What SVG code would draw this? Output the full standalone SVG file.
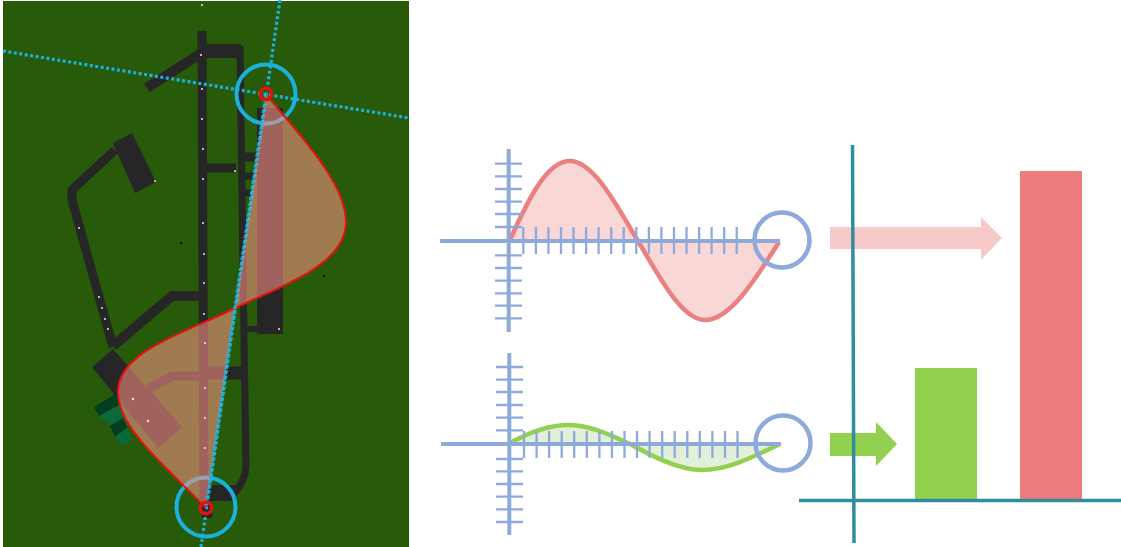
<svg xmlns="http://www.w3.org/2000/svg" width="1121" height="547" viewBox="0 0 1121 547">
<defs><style>
.road{fill:none;stroke:#262626;stroke-linejoin:round}
.bld{fill:#262626}
.dot{fill:#e8e8e0}
.cy{fill:none;stroke:#1cb0de;stroke-width:4}
.cyd{fill:none;stroke:#1cb0de;stroke-width:3.2;stroke-dasharray:3 2.500}
.rd{fill:none;stroke:#e8120c;stroke-width:3.500}
.ax{stroke:#8eaadb;stroke-width:4;fill:none}
.tk{stroke:#8eaadb;stroke-width:2.300;fill:none}
.ring{stroke:#8eaadb;stroke-width:4.500;fill:none}
.teal{stroke:#318c9c;stroke-width:3.500;fill:none}
</style></defs>
<rect width="1121" height="547" fill="#ffffff"/>
<g id="map">
<rect x="3" y="1" width="406" height="546" fill="#275b0a"/>
<g id="taxiways">
<path class="road" stroke-width="9" d="M202,31 L204,506"/>
<path class="road" stroke-width="14" d="M203,51 L241,51"/>
<path class="road" stroke-width="7" d="M240,46 L243,272 L246,465 Q246,480 234,494"/>
<path class="road" stroke-width="10" d="M147,88 L200,54"/>
<path class="road" stroke-width="9" d="M115,150 L72,190 L72,200 L113,347"/>
<path class="road" stroke-width="9" d="M205,168 L236,168"/>
<path class="road" stroke-width="9" d="M240,157 L258,157"/>
<path class="road" stroke-width="7" d="M240,176 L255,176"/>
<path class="road" stroke-width="7" d="M240,193 L252,193"/>
<path class="road" stroke-width="6" d="M243,329 L260,329"/>
<path class="road" stroke-width="10" d="M204,296 L172,296 L113,346"/>
<path class="road" stroke-width="13" d="M205,373 L243,373"/>
<path class="road" stroke-width="9" d="M205,376 L172,376 L148,389"/>
<polygon class="bld" points="113,143 132,133 156,182 135,193"/>
<rect class="bld" x="257" y="108" width="26" height="226"/>
<polygon class="bld" points="113,349 182,427 158,448 92,367"/>
<rect class="bld" x="208" y="485" width="28" height="16"/>
<rect class="bld" x="202" y="502" width="10" height="16"/>
<polygon fill="#013d1e" points="94,407 117,393 121,404 99,416"/>
<polygon fill="#0c6a3a" points="99,416 121,404 129,420 110,425"/>
<polygon fill="#013d1e" points="110,426 123,418 127,428 115,437"/>
<polygon fill="#0c6a3a" points="115,437 127,428 132,440 122,445"/>
<circle class="dot" cx="202" cy="5" r="1"/><circle class="dot" cx="201" cy="55" r="1"/>
<circle class="dot" cx="202" cy="89" r="1"/><circle class="dot" cx="202" cy="119" r="1"/>
<circle class="dot" cx="203" cy="149" r="1"/><circle class="dot" cx="203" cy="179" r="1"/>
<circle class="dot" cx="235" cy="171" r="1"/><circle class="dot" cx="155" cy="181" r="1"/>
<circle class="dot" cx="79" cy="228" r="1"/><circle class="dot" cx="203" cy="223" r="1"/>
<circle class="dot" cx="204" cy="254" r="1"/><circle class="dot" cx="99" cy="297" r="1"/>
<circle class="dot" cx="102" cy="308" r="1"/><circle class="dot" cx="105" cy="319" r="1"/>
<circle class="dot" cx="108" cy="329" r="1"/><circle class="dot" cx="204" cy="283" r="1"/>
<circle class="dot" cx="204" cy="314" r="1"/><circle class="dot" cx="279" cy="329" r="1"/>
<circle fill="#000" cx="181" cy="243" r="1"/><circle fill="#000" cx="324" cy="276" r="1"/>
</g>
<g id="guides">
<path class="cyd" d="M3,51 L409,118"/>
<path class="cyd" d="M280,0 L201,547"/>
<circle class="cy" cx="266" cy="94" r="29.500"/>
<circle class="cy" cx="206" cy="507" r="29.500"/>
</g>
<g id="lobe">
<path d="M266,94 C290,125 346,180 346,222 C346,268 270,290 233,309 C190,331 118,350 118,392 C118,430 170,470 206,508 Z" fill="#ff9289" fill-opacity=".56" stroke="none"/>
<path d="M266,94 C290,125 346,180 346,222 C346,268 270,290 233,309 C190,331 118,350 118,392 C118,430 170,470 206,508" fill="none" stroke="#e8120c" stroke-width="2"/>
<path d="M266,94 L206,508" class="cyd"/>
<circle class="dot" cx="133" cy="399" r="1.200"/><circle class="dot" cx="148" cy="421" r="1.200"/>
<circle class="dot" cx="205" cy="343" r="1"/><circle class="dot" cx="205" cy="388" r="1"/>
<circle class="dot" cx="205" cy="418" r="1"/><circle class="dot" cx="205" cy="448" r="1"/>
<circle class="rd" cx="266" cy="94" r="5.700"/>
<circle class="rd" cx="206" cy="508" r="5.700"/>
</g>
</g>
<g id="wave-large">
<path d="M510,240 C530,195 548,161 570,161 C595,161 620,212 638,241 C660,278 682,320 705,320 C730,320 755,280 779,242 Z" fill="#f8d7d6"/>
<path d="M510,240 C530,195 548,161 570,161 C595,161 620,212 638,241 C660,278 682,320 705,320 C730,320 755,280 779,242" fill="none" stroke="#ea8080" stroke-width="4.500"/>
<path class="tk" d="M495,163.700H522M495,176.300H522M495,189H522M495,201.700H522M495,214H522M495,227H522M495,255.300H522M495,268H522M495,280.700H522M495,293.300H522M495,305.700H522M495,318.300H522"/>
<path class="tk" d="M523.300,227V254M535.900,227V254M548.400,227V254M561,227V254M573.500,227V254M586.100,227V254M598.600,227V254M611.200,227V254M623.700,227V254M636.300,227V254M648.900,227V254M661.400,227V254M674,227V254M686.500,227V254M699.100,227V254M711.600,227V254M724.200,227V254M736.700,227V254"/>
<path class="ax" d="M440,241H780M508.700,149V332"/>
<circle class="ring" cx="782" cy="240" r="27.500"/>
</g>
<g id="wave-small">
<path d="M510,443 C530,432 548,425 568,425 C590,425 610,435 630,444 C650,455 678,470 702,470 C728,470 755,456 780,444 Z" fill="#e2efd9"/>
<path d="M510,443 C530,432 548,425 568,425 C590,425 610,435 630,444 C650,455 678,470 702,470 C728,470 755,456 780,444" fill="none" stroke="#92d050" stroke-width="4.500"/>
<path class="tk" d="M496,367H523M496,379.700H523M496,392H523M496,405H523M496,417.700H523M496,430.300H523M496,459H523M496,471.300H523M496,484H523M496,496.700H523M496,509.300H523M496,522H523"/>
<path class="tk" d="M524,431V458M536.600,431V458M549.100,431V458M561.700,431V458M574.200,431V458M586.800,431V458M599.400,431V458M611.900,431V458M624.500,431V458M637,431V458M649.600,431V458M662.200,431V458M674.700,431V458M687.300,431V458M699.800,431V458M712.400,431V458M725,431V458M737.500,431V458"/>
<path class="ax" d="M441,444H781M509.300,353V535"/>
<circle class="ring" cx="783" cy="443" r="27.500"/>
</g>
<g id="arrows">
<polygon fill="#f8c9c9" points="830,227 981,227 981,217 1002,238 981,260 981,249 830,249"/>
<polygon fill="#92d050" points="830,433 876,433 876,422 897,444 876,466 876,456 830,456"/>
</g>
<g id="bars">
<rect x="915" y="368" width="62" height="131" fill="#92d050"/>
<rect x="1020" y="171" width="62" height="328" fill="#ed7d7d"/>
<path class="teal" d="M852.500,145 L854,543M799,500.500H1121"/>
</g>
</svg>
